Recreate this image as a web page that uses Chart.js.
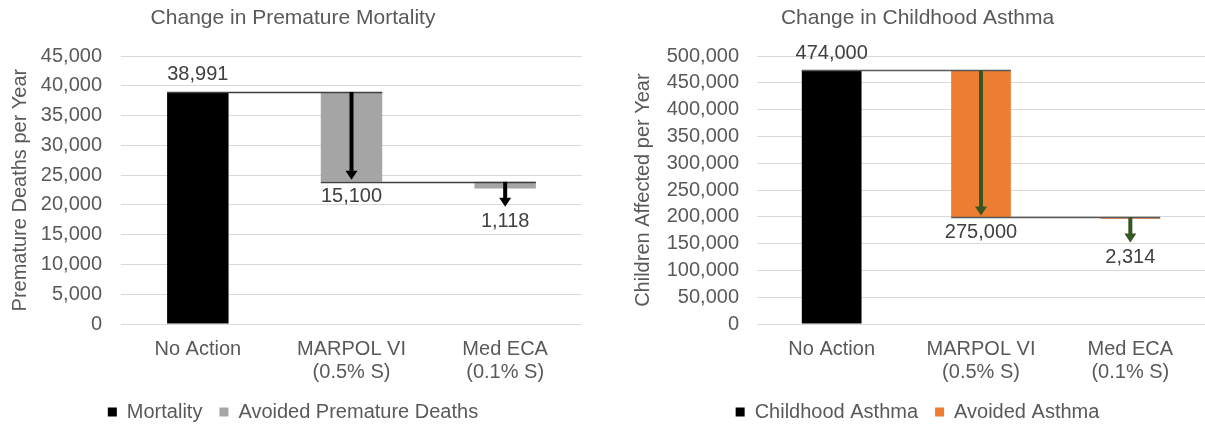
<!DOCTYPE html>
<html>
<head>
<meta charset="utf-8">
<script src="https://cdn.jsdelivr.net/npm/chart.js@4.4.0/dist/chart.umd.min.js"></script>
<style>
  html, body { margin: 0; padding: 0; background: #fff; overflow: hidden; }
  #wrap-left { position: absolute; left: 0; top: 0; width: 600px; height: 432px; }
  #wrap-right { position: absolute; left: 600px; top: 0; width: 605px; height: 432px; }
</style>
</head>
<body>
<div id="wrap-left"><canvas id="chart-mortality" width="600" height="432"></canvas></div>
<div id="wrap-right"><canvas id="chart-asthma" width="605" height="432"></canvas></div>
<script>
// categories shared by both panels
var categories = [['No Action'], ['MARPOL VI', '(0.5% S)'], ['Med ECA', '(0.1% S)']];

// first value = no action total, the rest = avoided cases per step
var mortalityValues = [38991, 15100, 1118];
var asthmaValues = [474000, 275000, 2314];

var mortalityLegend = ['Mortality', 'Avoided Premature Deaths'];
var asthmaLegend = ['Childhood Asthma', 'Avoided Asthma'];

var FONT = '"Liberation Sans", Arial, sans-serif';
var GREY_TEXT = '#595959';

// turn the values into floating bar ranges
var buildWaterfall = (values) => {
    var totals = [[0, values[0]]];
    var steps = [null];
    var level = values[0];
    for (var i = 1; i < values.length; i++) {
        totals.push(null);
        steps.push([level - values[i], level]);
        level = level - values[i];
    }
    return { totals: totals, steps: steps };
};

// connector lines, arrows and value labels
var waterfallMarks = {
    id: 'waterfallMarks',
    afterDatasetsDraw(chart, args, opts) {
        var ctx = chart.ctx;
        var yScale = chart.scales.y;
        var values = opts.values;
        var bars = [];
        var ranges = [];
        for (var i = 0; i < values.length; i++) {
            var ds = i === 0 ? 0 : 1;
            bars.push(chart.getDatasetMeta(ds).data[i]);
            ranges.push(chart.data.datasets[ds].data[i]);
        }
        ctx.save();
        // connectors
        ctx.strokeStyle = opts.lineColor;
        ctx.lineWidth = 1.5;
        for (var i = 0; i < bars.length - 1; i++) {
            var level = i === 0 ? ranges[i][1] : ranges[i][0];
            var py = Math.round(yScale.getPixelForValue(level)) + 0.5;
            ctx.beginPath();
            ctx.moveTo(bars[i].x - bars[i].width / 2, py);
            ctx.lineTo(bars[i + 1].x + bars[i + 1].width / 2, py);
            ctx.stroke();
        }
        ctx.font = '20px ' + FONT;
        ctx.textAlign = 'center';
        ctx.textBaseline = 'middle';
        ctx.fillStyle = '#404040';
        // label of the total
        var topY = yScale.getPixelForValue(ranges[0][1]);
        ctx.fillText(values[0].toLocaleString('en-US'), bars[0].x, topY - 17);
        // arrows for each step
        for (var i = 1; i < bars.length; i++) {
            var x = bars[i].x;
            var y1 = yScale.getPixelForValue(ranges[i][1]);
            var y0 = yScale.getPixelForValue(ranges[i][0]);
            var tip = Math.max(y0 - 2, y1 + 25);
            ctx.fillStyle = opts.arrowColor;
            ctx.fillRect(x - 2, y1, 4, tip - y1 - 8);
            ctx.beginPath();
            ctx.moveTo(x - 6, tip - 9);
            ctx.lineTo(x + 6, tip - 9);
            ctx.lineTo(x, tip);
            ctx.closePath();
            ctx.fill();
            ctx.fillStyle = '#404040';
            ctx.fillText(values[i].toLocaleString('en-US'), x, Math.max(y0, tip) + 15);
        }
        ctx.restore();
    }
};

var createWaterfall = (canvasId, cfg) => {
    var wf = buildWaterfall(cfg.values);
    var data = {
        labels: categories,
        datasets: [{
            label: cfg.legend[0],
            data: wf.totals,
            backgroundColor: '#000000',
            borderWidth: 0
        }, {
            label: cfg.legend[1],
            data: wf.steps,
            backgroundColor: cfg.stepColor,
            borderWidth: 0
        }]
    };
    var config = {
        type: 'bar',
        data: data,
        plugins: [waterfallMarks],
        options: {
            responsive: false,
            animation: false,
            devicePixelRatio: 1,
            datasets: { bar: { barPercentage: 0.4, categoryPercentage: 1 } },
            layout: { padding: { left: cfg.padLeft, right: cfg.padRight, top: 0, bottom: 0 } },
            scales: {
                x: {
                    stacked: true,
                    grid: { display: false, drawTicks: false },
                    border: { display: false },
                    ticks: { color: GREY_TEXT, padding: 14, font: { family: FONT, size: 20, lineHeight: 1.15 } },
                    afterFit: (scale) => { scale.height = 61; }
                },
                y: {
                    stacked: false,
                    min: 0,
                    max: cfg.yMax,
                    grid: { color: '#d9d9d9', lineWidth: 1, drawTicks: false },
                    border: { display: false },
                    ticks: {
                        stepSize: cfg.yStep,
                        autoSkip: false,
                        color: GREY_TEXT,
                        padding: cfg.tickPad,
                        font: { family: FONT, size: 20 },
                        callback: (v) => v.toLocaleString('en-US')
                    },
                    title: {
                        display: true,
                        text: cfg.yTitle,
                        color: GREY_TEXT,
                        padding: { top: cfg.yTitlePad, bottom: 0 },
                        font: { family: FONT, size: 20 }
                    },
                    afterFit: (scale) => { scale.width = cfg.yWidth; }
                }
            },
            plugins: {
                title: {
                    display: true,
                    text: cfg.title,
                    color: GREY_TEXT,
                    padding: { top: 6, bottom: 25 },
                    font: { family: FONT, size: 21, weight: 'normal' }
                },
                legend: {
                    position: 'bottom',
                    labels: {
                        boxWidth: 9,
                        boxHeight: 9,
                        padding: 17,
                        color: GREY_TEXT,
                        font: { family: FONT, size: 20 }
                    }
                },
                tooltip: { enabled: false },
                waterfallMarks: {
                    values: cfg.values,
                    lineColor: cfg.lineColor,
                    arrowColor: cfg.arrowColor
                }
            }
        }
    };
    return new Chart(document.getElementById(canvasId).getContext('2d'), config);
};

createWaterfall('chart-mortality', {
    values: mortalityValues,
    legend: mortalityLegend,
    title: 'Change in Premature Mortality',
    yTitle: 'Premature Deaths per Year',
    stepColor: '#a5a5a5',
    lineColor: '#404040',
    arrowColor: '#000000',
    yMax: 45000,
    yStep: 5000,
    padLeft: 4,
    padRight: 18,
    yWidth: 117,
    tickPad: 19,
    yTitlePad: 4
});

createWaterfall('chart-asthma', {
    values: asthmaValues,
    legend: asthmaLegend,
    title: 'Change in Childhood Asthma',
    yTitle: 'Children Affected per Year',
    stepColor: '#ed7d31',
    lineColor: '#595959',
    arrowColor: '#375623',
    yMax: 500000,
    yStep: 50000,
    padLeft: 30,
    padRight: 0,
    yWidth: 127,
    tickPad: 18,
    yTitlePad: 1
});
</script>
</body>
</html>
